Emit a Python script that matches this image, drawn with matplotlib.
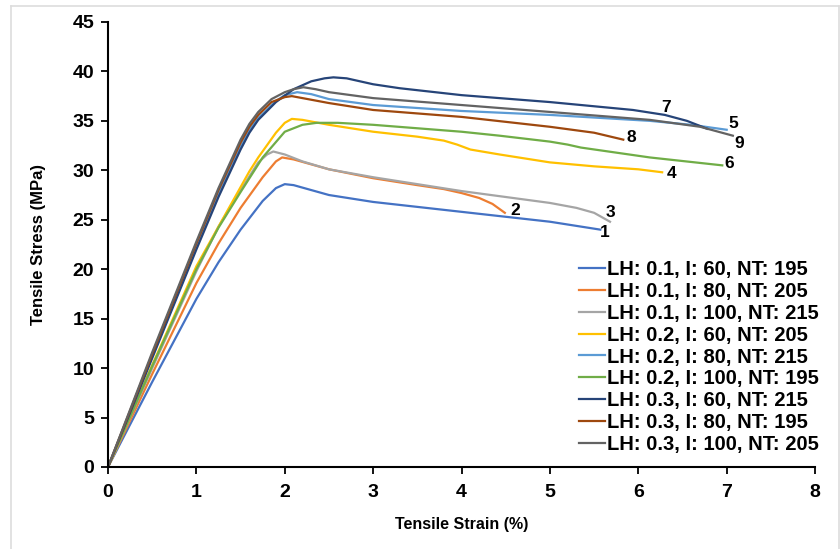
import matplotlib.pyplot as plt
from matplotlib.lines import Line2D

# font
plt.rcParams['font.family'] = ['Liberation Sans', 'DejaVu Sans']
plt.rcParams['font.weight'] = 'bold'

# DATA (strain %, stress MPa)
x1 = [0, 0.5, 1.0, 1.25, 1.5, 1.75, 1.9, 2.0, 2.1, 2.3, 2.5, 3.0, 3.5, 4.0, 4.5, 5.0, 5.57]
y1 = [0, 8.6, 17.0, 20.7, 24.0, 26.9, 28.2, 28.6, 28.5, 28.0, 27.5, 26.8, 26.3, 25.8, 25.3, 24.8, 24.0]
x2 = [0, 0.5, 1.0, 1.25, 1.5, 1.75, 1.9, 1.97, 2.1, 2.3, 2.5, 3.0, 3.5, 3.8, 4.0, 4.2, 4.35, 4.49]
y2 = [0, 9.4, 18.6, 22.6, 26.2, 29.3, 30.9, 31.3, 31.1, 30.6, 30.1, 29.2, 28.5, 28.1, 27.7, 27.2, 26.6, 25.7]
x3 = [0, 0.5, 1.0, 1.25, 1.5, 1.7, 1.8, 1.87, 2.0, 2.2, 2.5, 3.0, 3.5, 4.0, 4.5, 5.0, 5.3, 5.5, 5.68]
y3 = [0, 10.0, 19.8, 24.3, 28.0, 30.8, 31.6, 31.9, 31.6, 30.9, 30.1, 29.3, 28.6, 27.9, 27.3, 26.7, 26.2, 25.7, 24.8]
x4 = [0, 0.5, 1.0, 1.25, 1.5, 1.6, 1.7, 1.9, 2.0, 2.08, 2.2, 2.5, 3.0, 3.5, 3.8, 3.95, 4.1, 4.43, 5.0, 5.5, 6.0, 6.27]
y4 = [0, 10.3, 20.3, 24.3, 28.3, 29.9, 31.3, 33.8, 34.8, 35.2, 35.1, 34.6, 33.9, 33.4, 33.0, 32.6, 32.1, 31.6, 30.8, 30.4, 30.1, 29.8]
x5 = [0, 0.5, 1.0, 1.25, 1.5, 1.6, 1.7, 1.9, 2.0, 2.14, 2.3, 2.5, 3.0, 3.5, 4.0, 5.0, 6.13, 6.6, 7.0]
y5 = [0, 11.2, 22.2, 27.6, 32.4, 34.1, 35.3, 37.0, 37.6, 37.9, 37.7, 37.2, 36.6, 36.3, 36.0, 35.6, 35.0, 34.6, 34.1]
x6 = [0, 0.5, 1.0, 1.25, 1.5, 1.75, 2.0, 2.2, 2.36, 2.6, 3.0, 4.0, 4.43, 5.0, 5.2, 5.35, 6.13, 6.95]
y6 = [0, 10.2, 20.0, 24.2, 27.8, 31.3, 33.9, 34.6, 34.8, 34.8, 34.6, 33.9, 33.5, 32.9, 32.6, 32.3, 31.3, 30.5]
x7 = [0, 0.5, 1.0, 1.25, 1.5, 1.6, 1.7, 1.9, 2.1, 2.3, 2.45, 2.55, 2.7, 2.85, 3.0, 3.3, 3.5, 4.0, 5.0, 5.94, 6.3, 6.55, 6.78]
y7 = [0, 11.0, 22.0, 27.3, 32.1, 33.8, 35.1, 36.9, 38.2, 39.0, 39.3, 39.4, 39.3, 39.0, 38.7, 38.3, 38.1, 37.6, 36.9, 36.1, 35.6, 35.0, 34.2]
x8 = [0, 0.5, 1.0, 1.25, 1.5, 1.6, 1.7, 1.85, 2.0, 2.08, 2.2, 2.5, 3.0, 4.0, 5.0, 5.5, 5.83]
y8 = [0, 11.4, 22.6, 28.0, 32.8, 34.4, 35.6, 36.9, 37.4, 37.5, 37.3, 36.8, 36.1, 35.4, 34.4, 33.8, 33.1]
x9 = [0, 0.5, 1.0, 1.25, 1.5, 1.6, 1.7, 1.85, 2.0, 2.1, 2.21, 2.35, 2.5, 3.0, 4.0, 5.0, 6.13, 6.7, 7.07]
y9 = [0, 11.6, 22.8, 28.2, 33.1, 34.7, 35.9, 37.2, 37.9, 38.2, 38.4, 38.2, 37.9, 37.3, 36.6, 35.9, 35.1, 34.4, 33.5]

labels = ["LH: 0.1, I: 60, NT: 195", "LH: 0.1, I: 80, NT: 205", "LH: 0.1, I: 100, NT: 215",
          "LH: 0.2, I: 60, NT: 205", "LH: 0.2, I: 80, NT: 215", "LH: 0.2, I: 100, NT: 195",
          "LH: 0.3, I: 60, NT: 215", "LH: 0.3, I: 80, NT: 195", "LH: 0.3, I: 100, NT: 205"]
colors = ["#4472C4", "#ED7D31", "#A5A5A5", "#FFC000", "#5B9BD5",
          "#70AD47", "#264478", "#9E480E", "#636363"]
curve_tags = ["1", "2", "3", "4", "5", "6", "7", "8", "9"]
tag_pos = [(5.62, 23.7), (4.61, 25.9), (5.69, 25.7), (6.38, 29.7), (7.07, 34.7),
           (7.03, 30.7), (6.31, 36.3), (5.92, 33.3), (7.14, 32.7)]

xs = [x1, x2, x3, x4, x5, x6, x7, x8, x9]
ys = [y1, y2, y3, y4, y5, y6, y7, y8, y9]

fig = plt.figure(figsize=(8.4, 5.49), dpi=100)
ax = fig.add_axes([0.1286, 0.1494, 0.8417, 0.8106])

for i in range(9):
    ax.plot(xs[i], ys[i], '-', color=colors[i], lw=1.6, label=labels[i],
            solid_joinstyle='round')
    ax.text(tag_pos[i][0], tag_pos[i][1], curve_tags[i], fontsize=12.5,
            fontweight='bold', ha='center', va='center')

ax.set_xlim(0, 8)
ax.set_ylim(0, 45)
ax.set_xticks(range(0, 9))
ax.set_yticks(range(0, 46, 5))
ax.spines['top'].set_visible(False)
ax.spines['right'].set_visible(False)
ax.spines['left'].set_linewidth(1.5)
ax.spines['bottom'].set_linewidth(1.5)
ax.tick_params(direction='out', length=5, width=1.3, labelsize=14)
ax.tick_params(axis='x', pad=7)
ax.tick_params(axis='y', pad=5)
for lb in ax.get_xticklabels() + ax.get_yticklabels():
    lb.set_fontweight('bold')
ax.set_xlabel("Tensile Strain (%)", fontsize=11.5, fontweight='bold', labelpad=12)
ax.set_ylabel("Tensile Stress (MPa)", fontsize=12, fontweight='bold', labelpad=19)

ax.legend(loc='lower right', bbox_to_anchor=(1.014, 0.016), frameon=False,
          prop={'size': 14.5, 'weight': 'bold'}, handlelength=1.3, handletextpad=0.1,
          labelspacing=0.14, borderaxespad=0, borderpad=0.3)

# light grey frame round the picture
for xx, yy in [([0.013, 0.013], [0, 0.989]), ([0.013, 0.999], [0.989, 0.989]),
               ([0.999, 0.999], [0, 0.989])]:
    fig.add_artist(Line2D(xx, yy, color='#dddddd', lw=1.2, transform=fig.transFigure))

plt.savefig("out.png", dpi=100)
